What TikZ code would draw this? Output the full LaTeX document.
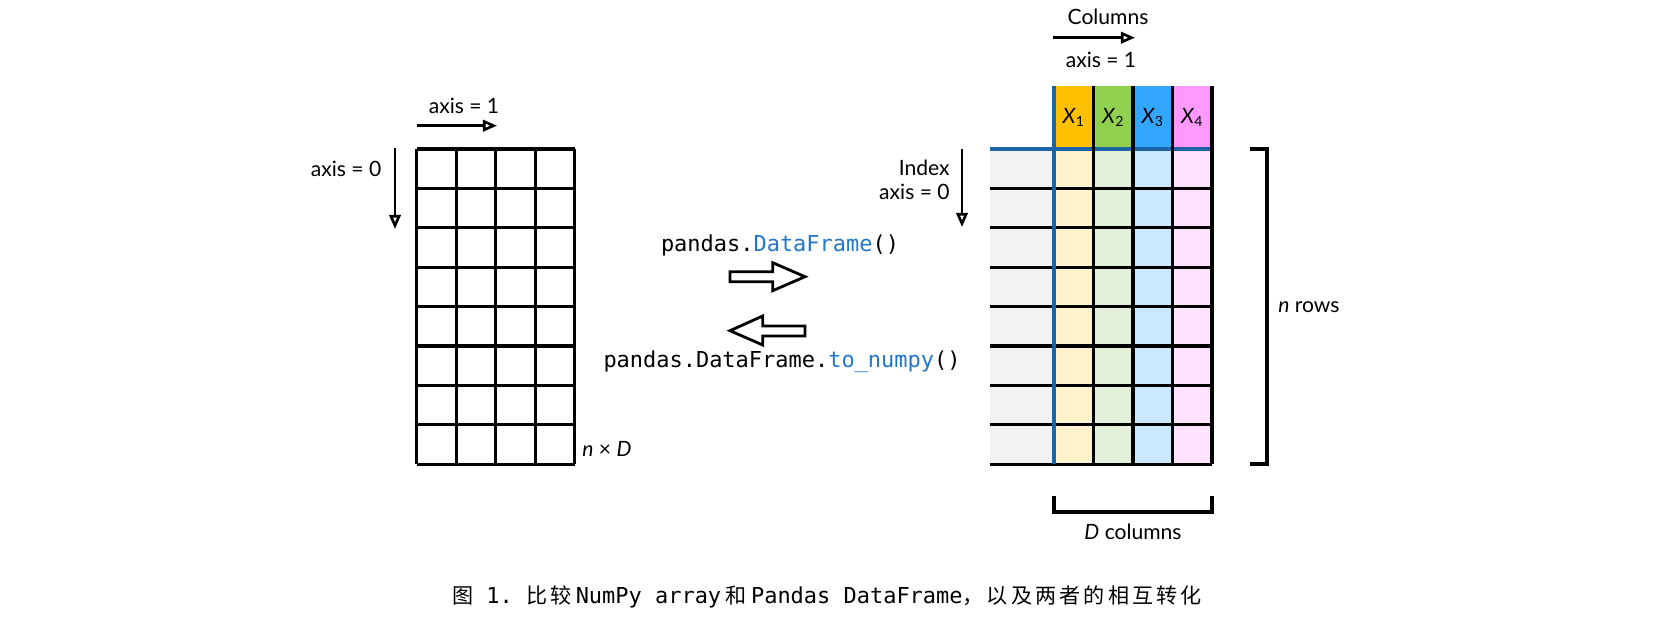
\documentclass[tikz,border=0pt]{standalone}
\usepackage{fontspec}
\setmainfont{Lato}
\setmonofont{DejaVu Sans Mono}
\newfontfamily\cjkfont[LetterSpace=15]{Noto Sans CJK SC}
\newcommand\capmono[1]{{\ttfamily\fontsize{12.5}{14}\selectfont #1}}
\usetikzlibrary{arrows.meta}
\definecolor{xone}{HTML}{FFC000}
\definecolor{xtwo}{HTML}{92D050}
\definecolor{xthree}{HTML}{33A6FF}
\definecolor{xfour}{HTML}{FF99FF}
\definecolor{xonelight}{HTML}{FFF2CC}
\definecolor{xtwolight}{HTML}{E2EFD9}
\definecolor{xthreelight}{HTML}{CCE8FF}
\definecolor{xfourlight}{HTML}{FFE2FF}
\definecolor{idxgray}{HTML}{F2F2F2}
\definecolor{dfblue}{HTML}{1C64A6}
\definecolor{codeblue}{HTML}{2277C8}
\tikzset{
    gridline/.style={line width=1.8pt},
    axisarrow/.style={line width=1.5pt,-{Triangle[open,length=8pt,width=6.5pt]}},
    lbl/.style={font=\fontsize{12}{14}\selectfont,inner sep=0pt},
    code/.style={font=\ttfamily\fontsize{12.5}{14}\selectfont,inner sep=0pt},
    blockarrow/.style={line width=1.6pt,fill=white,line join=miter},
    bracket/.style={line width=1.8pt}
}
\begin{document}
\begin{tikzpicture}[x=0.02cm,y=-0.02cm]
    \useasboundingbox (0,0) rectangle (1654,628);
    % numpy array
    \foreach \r in {0,...,8}
        {
            \draw[gridline] (416.7,149+39.4*\r) -- (574.7,149+39.4*\r);
        }
    \foreach \c in {0,...,4}
        {
            \draw[gridline] (416.7+39.5*\c,149) -- (416.7+39.5*\c,464);
        }
    \coordinate (a1s) at (416.7,125.7);
    \coordinate (a1e) at (497,125.7);
    \coordinate (a0s) at (395,148);
    \coordinate (a0e) at (395,229);
    \draw[axisarrow] (a1s) -- (a1e);
    \draw[axisarrow] (a0s) -- (a0e);
    \node[lbl] (npaxisone) at (464,106) {axis = 1};
    \node[lbl,anchor=east] (npaxiszero) at (381.7,169) {axis = 0};
    \node[lbl,anchor=west] (npsize) at (582,449) {\textit{n} × \textit{D}};
    % conversion
    \node[code] (todf) at (780,245) {pandas.\textcolor{codeblue}{DataFrame}()};
    \draw[blockarrow] (730,271.7) -- (772.7,271.7) -- (772.7,262.7) -- (805,276.7) -- (772.7,290.7) -- (772.7,281.7) -- (730,281.7) -- cycle;
    \draw[blockarrow] (805,326) -- (762.7,326) -- (762.7,316) -- (730,330.7) -- (762.7,345) -- (762.7,336) -- (805,336) -- cycle;
    \node[code] (tonp) at (782,362) {pandas.DataFrame.\textcolor{codeblue}{to\_numpy}()};
    % dataframe
    \fill[idxgray] (990,149) rectangle (1054,464);
    \foreach \c/\col in {0/xone,1/xtwo,2/xthree,3/xfour}
        {
            \fill[\col] (1054+39.5*\c,86) rectangle (1093.5+39.5*\c,149);
            \fill[\col light] (1054+39.5*\c,149) rectangle (1093.5+39.5*\c,464);
            \node[lbl] (x\c) at (1073.7+39.5*\c,117.5) {\textit{X}\textsubscript{\the\numexpr\c+1\relax}};
        }
    \foreach \r in {1,...,8}
        {
            \draw[gridline] (990,149+39.4*\r) -- (1212,149+39.4*\r);
        }
    \draw[gridline,dfblue] (990,149) -- (1212,149);
    \foreach \c in {1,...,4}
        {
            \draw[gridline] (1054+39.5*\c,86) -- (1054+39.5*\c,464);
        }
    \draw[gridline,dfblue] (1054,86) -- (1054,464);
    \node[lbl] (colname) at (1108,17) {Columns};
    \coordinate (c1s) at (1053,37.7);
    \coordinate (c1e) at (1135,37.7);
    \draw[axisarrow] (c1s) -- (c1e);
    \node[lbl] (dfaxisone) at (1101,60) {axis = 1};
    \node[lbl,anchor=east] (idxname) at (950,168) {Index};
    \node[lbl,anchor=east] (dfaxiszero) at (950,192) {axis = 0};
    \coordinate (i0s) at (962,149);
    \coordinate (i0e) at (962,227);
    \draw[axisarrow] (i0s) -- (i0e);
    \draw[bracket] (1250,149) -- (1267,149) -- (1267,464) -- (1250,464);
    \node[lbl,anchor=west] (nrows) at (1278,307) {\textit{n} rows};
    \draw[bracket] (1054,496) -- (1054,512) -- (1212,512) -- (1212,496);
    \node[lbl] (dcols) at (1133,532) {\textit{D} columns};
    % caption
    \node[inner sep=0pt,font=\cjkfont\fontsize{12}{14}\selectfont] (caption) at (827,597)
        {图\capmono{\ 1.\ }比较\hspace{2.5pt}\capmono{NumPy array}\hspace{2.5pt}和\hspace{2.5pt}\capmono{Pandas DataFrame}，以及两者的相互转化};
\end{tikzpicture}
\end{document}
